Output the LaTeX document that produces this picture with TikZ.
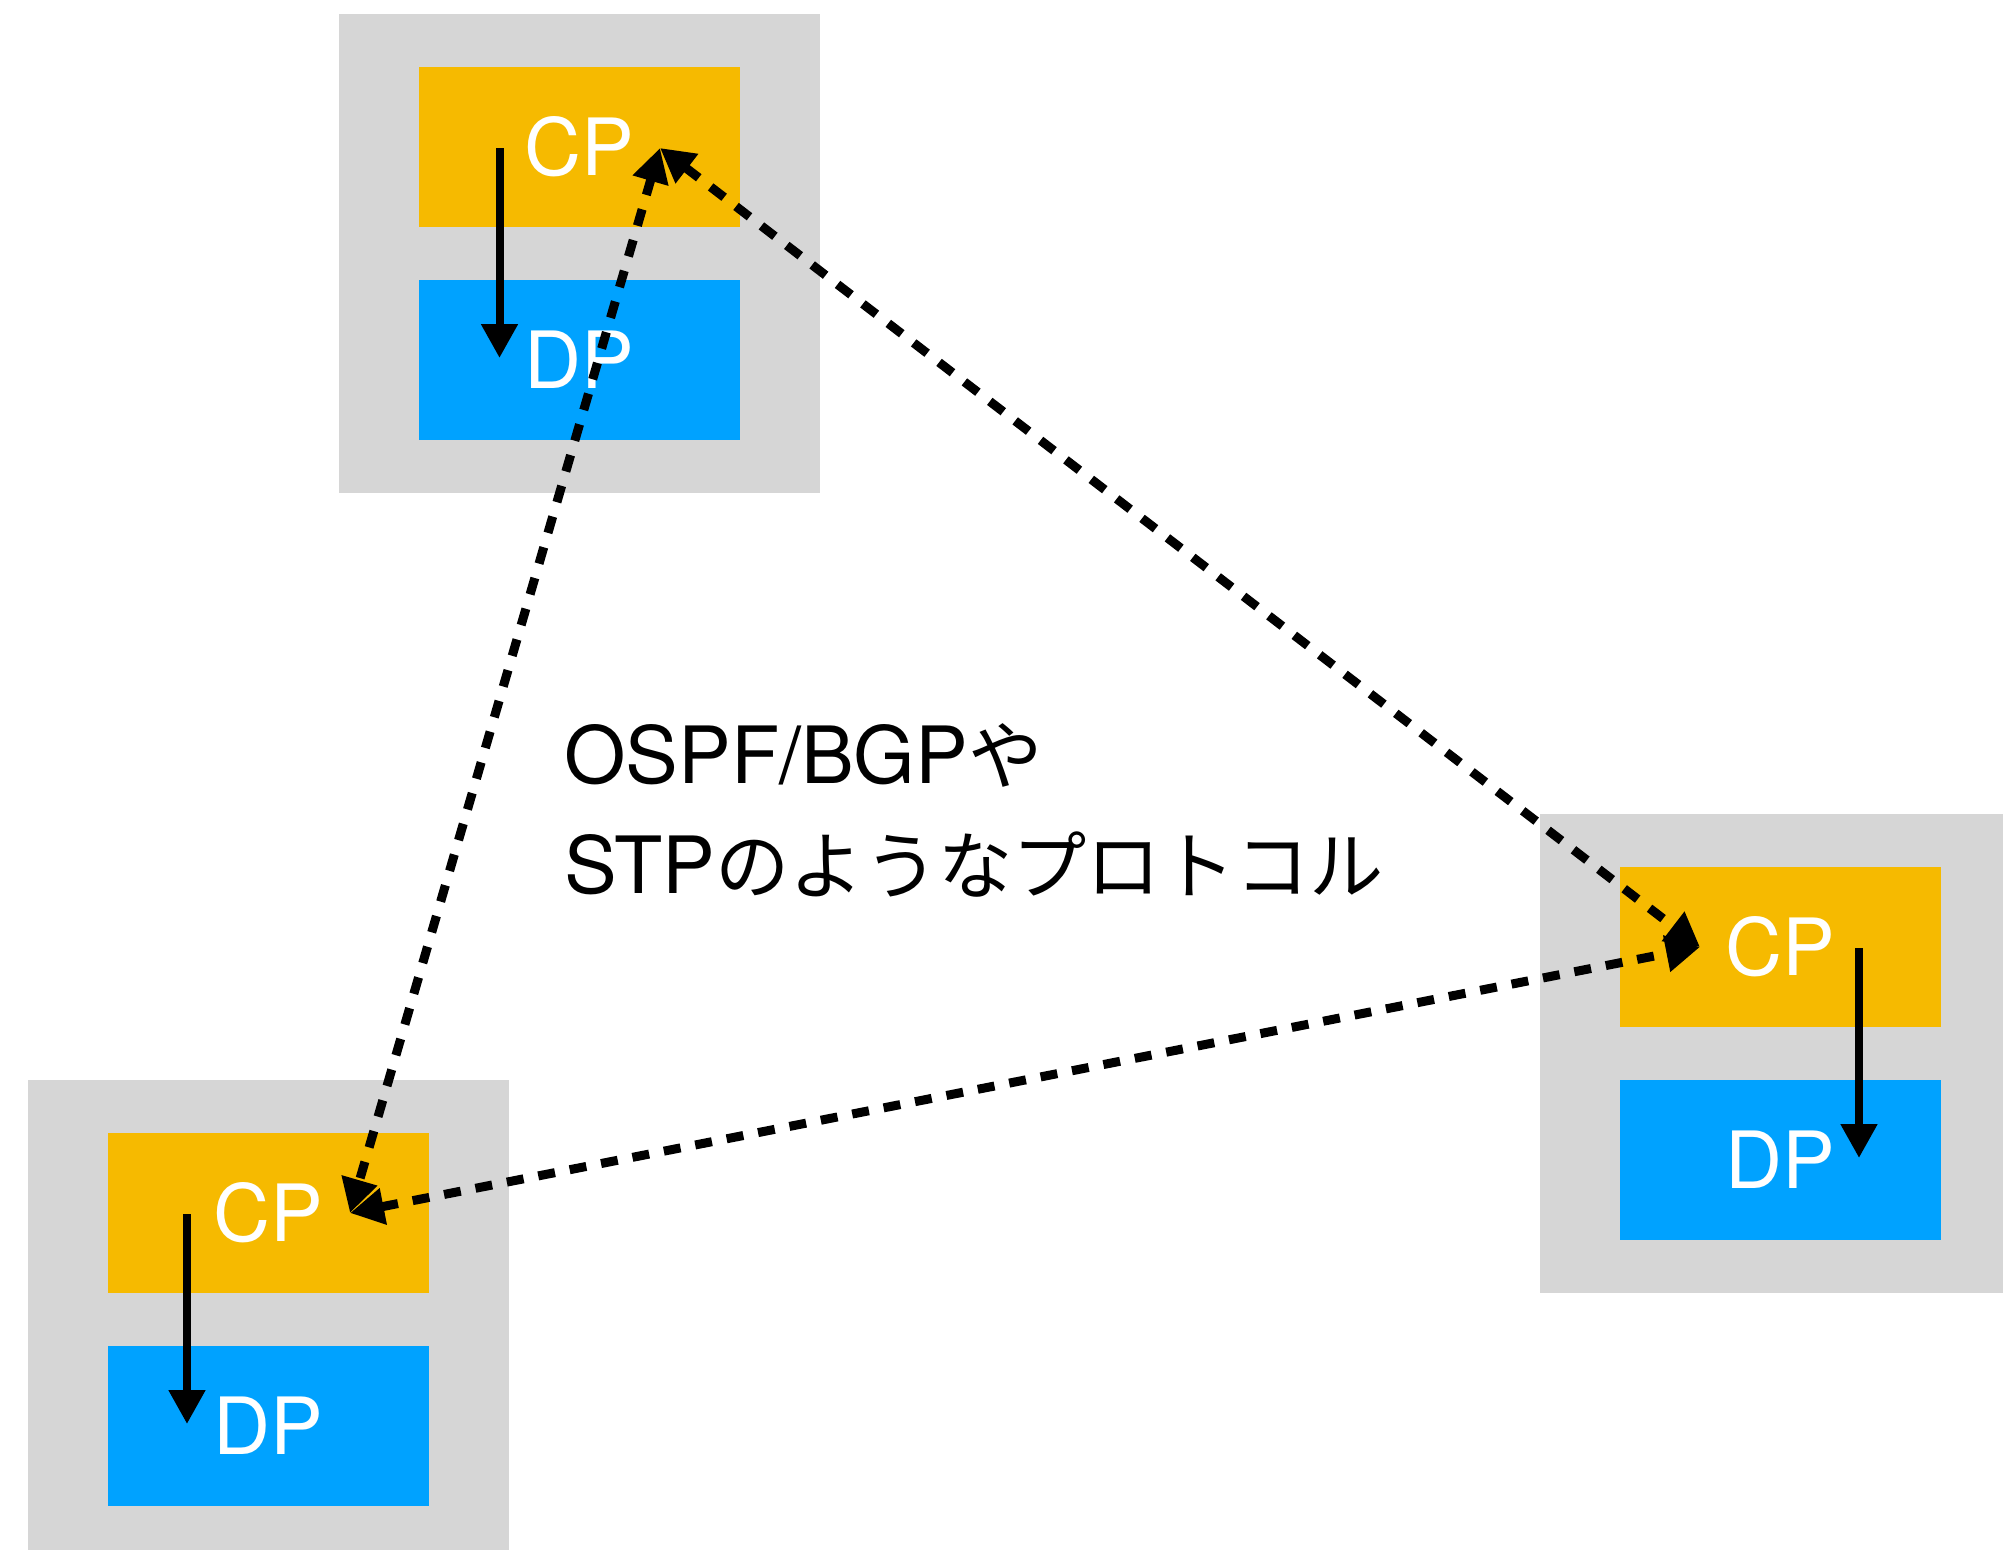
\documentclass[tikz,border=0pt]{standalone}
\usepackage{fontspec}
\setmainfont{TeX Gyre Heros}
\newfontfamily\cjk[Scale=0.94]{Noto Sans CJK JP}
\usetikzlibrary{arrows.meta,calc}
\definecolor{boxgray}{RGB}{214,214,214}
\definecolor{cpyellow}{RGB}{246,186,0}
\definecolor{dpblue}{RGB}{0,162,255}
\begin{document}
\begin{tikzpicture}[x=1pt,y=-1pt,
  router/.style={fill=boxgray, minimum width=481pt, minimum height=479pt, inner sep=0pt, anchor=north west},
  plane/.style={minimum width=321pt, minimum height=160pt, inner sep=0pt, text=white,
    font=\fontsize{79}{90}\selectfont},
  cpbox/.style={plane, fill=cpyellow},
  dpbox/.style={plane, fill=dpblue},
  push/.style={line width=8pt, -{Triangle[length=34pt,width=35pt]}},
  peer/.style={line width=9pt, dash pattern=on 17pt off 15pt,
    {Triangle[length=34pt,width=35pt]}-{Triangle[length=34pt,width=35pt]}},
  lbl/.style={font=\fontsize{79}{90}\selectfont, inner sep=0pt, anchor=base west}]
\useasboundingbox (0,0) rectangle (2003,1550);
\clip (0,0) rectangle (2003,1550);

% routers
\node[router] (rT)  at (339,14) {};
\node[router] (rBL) at (28,1080) {};
\node[router] (rR)  at (1540,814) {};

% control and data planes
\node[cpbox] (cpT)  at (579.5,147) {CP};
\node[dpbox] (dpT)  at (579.5,360) {DP};
\node[cpbox] (cpBL) at (268,1213) {CP};
\node[dpbox] (dpBL) at (268,1426) {DP};
\node[cpbox] (cpR)  at (1780,947) {CP};
\node[dpbox] (dpR)  at (1780,1160) {DP};

% end points inside the planes
\coordinate (cpT-out)  at ($(cpT.center)+(-80,1)$);
\coordinate (dpT-in)   at ($(dpT.center)+(-80,-2)$);
\coordinate (cpBL-out) at ($(cpBL.center)+(-81,1)$);
\coordinate (dpBL-in)  at ($(dpBL.center)+(-81,-2)$);
\coordinate (cpR-out)  at ($(cpR.center)+(79,1)$);
\coordinate (dpR-in)   at ($(dpR.center)+(79,-2)$);
\coordinate (cpT-peer)  at ($(cpT.center)+(80.5,1)$);
\coordinate (cpBL-peer) at ($(cpBL.center)+(82,0)$);
\coordinate (cpR-peer)  at ($(cpR.center)+(-80,0)$);

% CP -> DP inside each router
\draw[push] (cpT-out) -- (dpT-in);
\draw[push] (cpBL-out) -- (dpBL-in);
\draw[push] (cpR-out) -- (dpR-in);

% routing protocol exchanges between control planes
\draw[peer] (cpT-peer) -- (cpBL-peer);
\draw[peer] (cpT-peer) -- (cpR-peer);
\draw[peer] (cpBL-peer) -- (cpR-peer);

% protocol label
\node[lbl] (proto1) at (564,783) {OSPF/BGP{\cjk や}};
\node[lbl] (proto2) at (564,893) {STP{\cjk のようなプロトコル}};
\end{tikzpicture}
\end{document}
